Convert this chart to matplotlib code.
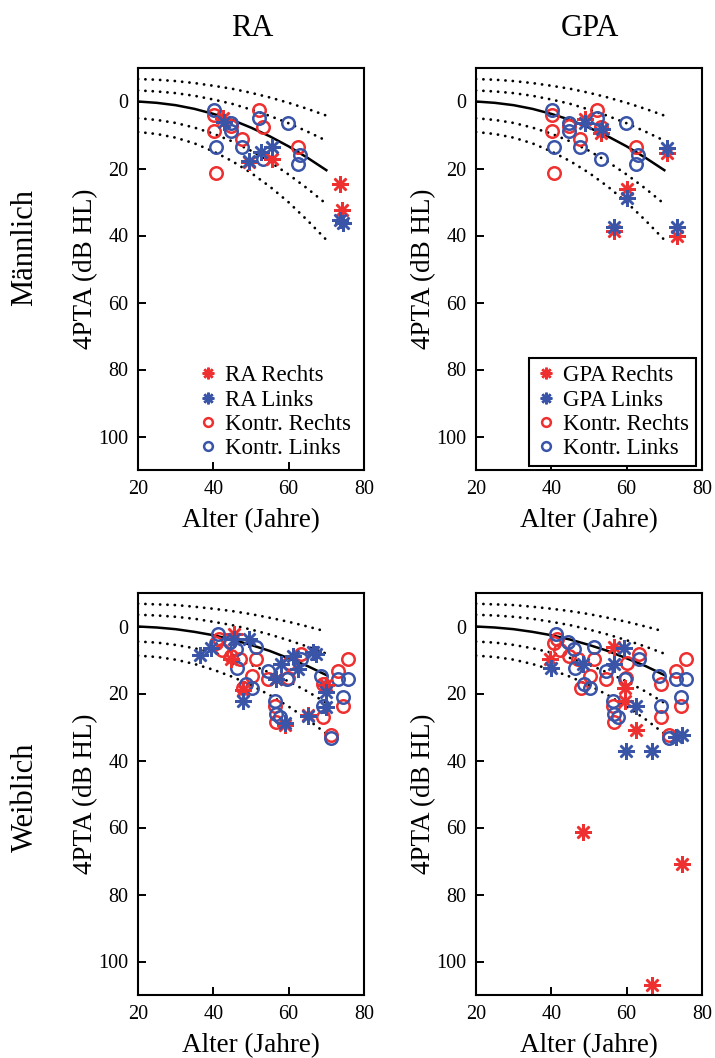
import matplotlib
matplotlib.use("Agg")
import matplotlib.pyplot as plt

plt.rcParams["font.family"] = ["Liberation Serif", "DejaVu Serif"]

RED, BLUE = "#ee3030", "#3a55a8"

# percentile curves (age in years, 4PTA in dB HL)
curve_age = [20, 25, 30, 35, 40, 45, 50, 55, 60, 65, 70]
m_curves = [
    [-6.7, -6.5, -6.1, -5.5, -4.7, -3.8, -2.6, -1.2, 0.4, 2.2, 4.2],
    [-3.3, -3.0, -2.5, -1.7, -0.6, 0.7, 2.4, 4.3, 6.5, 9.0, 11.7],
    [5.0, 5.5, 6.4, 7.8, 9.6, 11.9, 14.7, 18.0, 21.8, 26.0, 30.6],
    [9.1, 9.7, 10.8, 12.5, 14.9, 17.8, 21.3, 25.4, 30.1, 35.5, 41.3],
]
m_median = [0.0, 0.4, 1.1, 2.2, 3.7, 5.5, 7.8, 10.4, 13.4, 16.8, 20.5]
f_curves = [
    [-6.8, -6.6, -6.4, -5.9, -5.3, -4.6, -3.7, -2.6, -1.4, 0.0, 1.5],
    [-3.5, -3.3, -2.9, -2.3, -1.4, -0.4, 0.9, 2.4, 4.1, 6.0, 8.1],
    [4.5, 4.8, 5.5, 6.5, 7.8, 9.4, 11.4, 13.8, 16.4, 19.4, 22.8],
    [8.7, 9.1, 9.9, 11.2, 12.9, 15.0, 17.5, 20.5, 23.9, 27.7, 32.0],
]
f_median = [0.0, 0.3, 0.8, 1.6, 2.6, 3.9, 5.5, 7.3, 9.5, 11.8, 14.5]

# controls, men (same in both columns)
cm_r_age = [40.3, 40.2, 40.8, 44.6, 47.6, 52.1, 53.3, 62.4]
cm_r_db = [4.0, 8.7, 21.3, 7.4, 11.1, 2.5, 7.6, 13.7]
cm_l_age = [40.3, 40.8, 44.8, 44.8, 47.6, 52.1, 53.3, 59.8, 62.9, 62.4]
cm_l_db = [2.5, 13.7, 6.4, 8.7, 13.7, 5.0, 17.3, 6.4, 16.0, 18.6]

# controls, women
cf_r_age = [41.5, 40.6, 42.4, 44.8, 47.0, 51.2, 50.3, 54.5, 60.2, 59.8, 47.9,
            56.3, 56.6, 63.3, 75.7, 73.0, 69.0, 74.4, 69.1, 71.3]
cf_r_db = [3.7, 5.0, 7.0, 8.7, 9.6, 9.7, 14.9, 15.6, 11.0, 15.4, 18.3,
           23.6, 28.5, 8.1, 9.6, 13.4, 17.1, 23.6, 27.0, 32.3]
cf_l_age = [41.2, 44.3, 46.1, 46.3, 51.2, 54.5, 59.6, 48.8, 50.3, 56.5, 56.6,
            57.6, 63.3, 68.6, 73.0, 75.7, 74.4, 69.0, 71.3]
cf_l_db = [2.2, 4.7, 6.7, 12.4, 6.1, 13.4, 15.6, 17.1, 18.4, 22.1, 26.1,
           27.0, 9.6, 14.8, 15.8, 15.8, 21.1, 23.6, 33.3]

# RA patients
ra_m_r_age = [42.5, 49.4, 55.6, 73.7, 74.2]
ra_m_r_db = [5.0, 18.0, 17.3, 24.7, 32.5]
ra_m_l_age = [42.7, 49.4, 52.7, 55.6, 73.7, 74.3]
ra_m_l_db = [6.1, 17.8, 15.1, 13.7, 35.5, 36.3]
ra_f_r_age = [45.4, 44.8, 47.9, 56.7, 70.0, 65.1, 59.0]
ra_f_r_db = [2.2, 9.6, 19.1, 15.8, 17.6, 26.4, 29.3]
ra_f_l_age = [36.4, 39.5, 45.4, 49.6, 48.0, 56.7, 58.0, 61.1, 62.4, 66.4,
              67.3, 70.0, 70.0, 59.0, 65.1]
ra_f_l_db = [8.5, 6.4, 3.7, 3.7, 22.1, 15.8, 11.1, 8.7, 12.6, 7.5,
             8.2, 19.6, 24.1, 28.8, 26.7]

# GPA patients
gpa_m_r_age = [48.9, 53.3, 70.6, 60.1, 56.6, 73.4]
gpa_m_r_db = [5.3, 9.4, 15.3, 26.0, 38.6, 40.1]
gpa_m_l_age = [48.9, 53.5, 70.8, 60.1, 56.6, 73.4]
gpa_m_l_db = [6.4, 8.2, 13.9, 28.7, 37.6, 37.4]
gpa_f_r_age = [39.6, 56.6, 59.5, 59.5, 62.6, 48.5, 74.6, 66.6]
gpa_f_r_db = [9.6, 6.2, 18.5, 22.2, 31.0, 61.2, 70.8, 106.9]
gpa_f_l_age = [39.8, 48.5, 56.6, 59.2, 62.6, 59.8, 66.6, 73.2, 74.7]
gpa_f_l_db = [12.4, 11.3, 11.1, 6.3, 23.6, 37.3, 37.3, 33.0, 32.3]

W, H = 715, 1058
AST = (8, 2, 0)


def panel(fig, left, top, curves, median, ctrl, pat, name, legend=None):
    ax = fig.add_axes([left / W, 1 - (top + 402) / H, 226 / W, 402 / H])
    for c in curves:
        ax.plot(curve_age, c, color="k", lw=2.0, ls=(0, (0.05, 2.6)),
                dash_capstyle="round")
    ax.plot(curve_age, median, color="k", lw=1.8)
    (cr_a, cr_d), (cl_a, cl_d) = ctrl
    (pr_a, pr_d), (pl_a, pl_d) = pat
    h3, = ax.plot(cr_a, cr_d, "o", ms=9, mfc="none", mec=RED, mew=1.8,
                  label="Kontr. Rechts")
    h4, = ax.plot(cl_a, cl_d, "o", ms=9, mfc="none", mec=BLUE, mew=1.8,
                  label="Kontr. Links")
    h1, = ax.plot(pr_a, pr_d, ls="none", marker=AST, ms=12, mec=RED, mew=1.8,
                  label=f"{name} Rechts")
    h2, = ax.plot(pl_a, pl_d, ls="none", marker=AST, ms=12, mec=BLUE, mew=1.8,
                  label=f"{name} Links")
    ax.set_xlim(20, 80)
    ax.set_ylim(110, -10)
    ax.set_xticks([20, 40, 60, 80])
    ax.set_yticks([0, 20, 40, 60, 80, 100])
    ax.tick_params(direction="in", length=6, width=1.4, labelsize=14.5, pad=7,
                   top=False, right=False)
    for s in ax.spines.values():
        s.set_linewidth(1.5)
    ax.set_xlabel("Alter (Jahre)", fontsize=19.5, labelpad=7)
    ax.set_ylabel("4PTA (dB HL)", fontsize=19.5, labelpad=0)
    if legend is not None:
        leg = ax.legend(handles=[h1, h2, h3, h4], loc="lower right",
                        bbox_to_anchor=(0.975, 0.01), borderaxespad=0,
                        fontsize=16.5, frameon=legend, fancybox=False,
                        edgecolor="k", framealpha=1, handlelength=0.9,
                        handletextpad=0.3, labelspacing=0.14, borderpad=0.3,
                        markerscale=0.7)
        leg.get_frame().set_linewidth(1.5)
    return ax


fig = plt.figure(figsize=(W / 100, H / 100), dpi=100)

panel(fig, 138, 68, m_curves, m_median,
      [(cm_r_age, cm_r_db), (cm_l_age, cm_l_db)],
      [(ra_m_r_age, ra_m_r_db), (ra_m_l_age, ra_m_l_db)], "RA", legend=False)
panel(fig, 476, 68, m_curves, m_median,
      [(cm_r_age, cm_r_db), (cm_l_age, cm_l_db)],
      [(gpa_m_r_age, gpa_m_r_db), (gpa_m_l_age, gpa_m_l_db)], "GPA", legend=True)
panel(fig, 138, 593, f_curves, f_median,
      [(cf_r_age, cf_r_db), (cf_l_age, cf_l_db)],
      [(ra_f_r_age, ra_f_r_db), (ra_f_l_age, ra_f_l_db)], "RA")
panel(fig, 476, 593, f_curves, f_median,
      [(cf_r_age, cf_r_db), (cf_l_age, cf_l_db)],
      [(gpa_f_r_age, gpa_f_r_db), (gpa_f_l_age, gpa_f_l_db)], "GPA")

fig.text(252 / W, 1 - 28 / H, "RA", fontsize=22, ha="center", va="center")
fig.text(590 / W, 1 - 28 / H, "GPA", fontsize=22, ha="center", va="center")
fig.text(25 / W, 1 - 247 / H, "Männlich", fontsize=22, rotation=90,
         ha="center", va="center")
fig.text(25 / W, 1 - 797 / H, "Weiblich", fontsize=22, rotation=90,
         ha="center", va="center")

fig.savefig("out.png", dpi=100)
